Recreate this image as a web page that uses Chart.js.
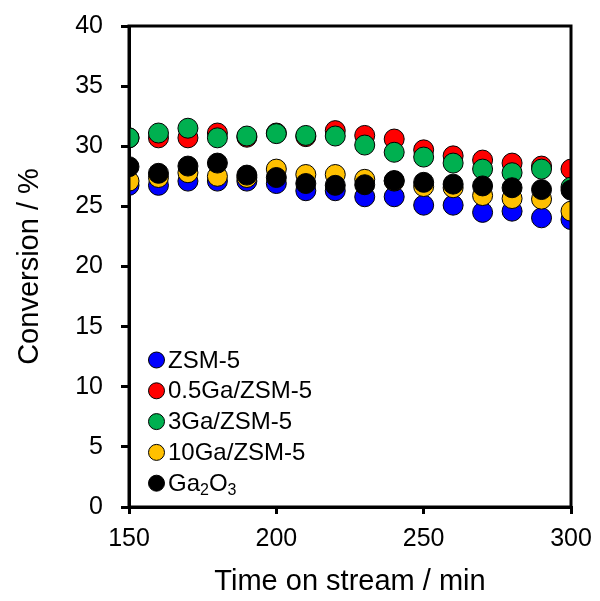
<!DOCTYPE html>
<html>
<head>
<meta charset="utf-8">
<script src="https://cdn.jsdelivr.net/npm/chart.js@4"></script>
<style>
    body { margin: 0; background: #fff; }
    #wrap { width: 600px; height: 601px; }
</style>
</head>
<body>
<div id="wrap"><canvas id="conversionChart"></canvas></div>
<script>
// Time on stream (min)
const times = [150, 160, 170, 180, 190, 200, 210, 220, 230, 240, 250, 260, 270, 280, 290, 300];

// Conversion (%) for each catalyst
const zsm5 = [26.75, 26.75, 27.1, 27.1, 27.1, 26.9, 26.3, 26.3, 25.8, 25.8, 25.1, 25.1, 24.5, 24.6, 24.05, 23.9];
const ga05 = [30.7, 30.7, 30.7, 31.1, 30.75, 31.1, 30.8, 31.3, 30.9, 30.6, 29.7, 29.2, 28.85, 28.6, 28.35, 28.1];
const ga3 = [30.7, 31.1, 31.5, 30.7, 30.85, 31.05, 30.9, 30.85, 30.1, 29.5, 29.1, 28.6, 28.1, 27.8, 28.1, 26.6];
const ga10 = [27.1, 27.4, 27.8, 27.5, 27.4, 28.1, 27.65, 27.65, 27.25, 27.1, 26.65, 26.55, 25.9, 25.65, 25.6, 24.6];
const ga2o3 = [28.3, 27.75, 28.35, 28.6, 27.6, 27.4, 26.9, 26.75, 26.8, 27.15, 27.0, 26.85, 26.7, 26.55, 26.4, 26.35];

const seriesNames = ['ZSM-5', '0.5Ga/ZSM-5', '3Ga/ZSM-5', '10Ga/ZSM-5', 'Ga2O3'];
const seriesColors = ['#0000ff', '#ff0000', '#00b050', '#ffc000', '#000000'];
const seriesValues = [zsm5, ga05, ga3, ga10, ga2o3];

const FONT = "'Liberation Sans', Arial, sans-serif";

function toPoints(values) {
    return times.map(function(t, i) { return { x: t, y: values[i] }; });
}

const datasets = seriesValues.map(function(values, i) {
    return {
        label: seriesNames[i],
        data: toPoints(values),
        backgroundColor: seriesColors[i],
        borderColor: '#000',
        borderWidth: 1,
        pointRadius: 10,
        pointHoverRadius: 10,
        // later series sit on top
        order: seriesNames.length - i
    };
});

// box around the plot area
const frame = {
    id: 'frame',
    afterDraw: function(chart) {
        const a = chart.chartArea;
        const ctx = chart.ctx;
        ctx.save();
        ctx.strokeStyle = '#000';
        ctx.lineWidth = 3;
        ctx.strokeRect(a.left, a.top, a.right - a.left, a.bottom - a.top);
        ctx.restore();
    }
};

// legend inside the plot, lower left, with subscripts for Ga2O3
const innerLegend = {
    id: 'innerLegend',
    afterDraw: function(chart) {
        const ctx = chart.ctx;
        const x0 = 156.5, y0 = 360, step = 30.8, size = 24;
        ctx.save();
        ctx.textBaseline = 'middle';
        ctx.textAlign = 'left';
        seriesNames.forEach(function(name, i) {
            const y = y0 + i * step;
            ctx.beginPath();
            ctx.arc(x0, y, 8, 0, Math.PI * 2);
            ctx.fillStyle = seriesColors[i];
            ctx.fill();
            ctx.lineWidth = 1;
            ctx.strokeStyle = '#000';
            ctx.stroke();
            ctx.fillStyle = '#000';
            let x = 168;
            if (name === 'Ga2O3') {
                const parts = [['Ga', false], ['2', true], ['O', false], ['3', true]];
                parts.forEach(function(p) {
                    ctx.font = (p[1] ? 16 : size) + 'px ' + FONT;
                    ctx.fillText(p[0], x, p[1] ? y + 7 : y + 1);
                    x += ctx.measureText(p[0]).width;
                });
            } else {
                ctx.font = size + 'px ' + FONT;
                ctx.fillText(name, x, y + 1);
            }
        });
        ctx.restore();
    }
};

const ctx = document.getElementById('conversionChart').getContext('2d');
new Chart(ctx, {
    type: 'scatter',
    data: { datasets: datasets },
    options: {
        responsive: true,
        maintainAspectRatio: false,
        animation: false,
        layout: { padding: { top: 26, right: 29, left: 0, bottom: 0 } },
        plugins: {
            legend: { display: false },
            tooltip: { enabled: false }
        },
        scales: {
            x: {
                type: 'linear',
                min: 150,
                max: 300,
                afterFit: function(scale) {
                    scale.height = 94;
                    scale.paddingLeft = 0;
                    scale.paddingRight = 0;
                },
                ticks: {
                    stepSize: 50,
                    color: '#000',
                    padding: 10,
                    font: { family: FONT, size: 25 }
                },
                grid: { drawOnChartArea: false, color: '#000', lineWidth: 3, tickLength: 7 },
                border: { color: '#000', width: 3 },
                title: {
                    display: true,
                    text: 'Time on stream / min',
                    color: '#000',
                    padding: 2,
                    font: { family: FONT, size: 29 }
                }
            },
            y: {
                min: 0,
                max: 40,
                afterFit: function(scale) {
                    scale.width = 129;
                    scale.paddingTop = 0;
                    scale.paddingBottom = 0;
                },
                ticks: {
                    stepSize: 5,
                    color: '#000',
                    padding: 18,
                    font: { family: FONT, size: 25 }
                },
                grid: { drawOnChartArea: false, color: '#000', lineWidth: 3, tickLength: 8 },
                border: { color: '#000', width: 3 },
                title: {
                    display: true,
                    text: 'Conversion / %',
                    color: '#000',
                    padding: 13,
                    font: { family: FONT, size: 29 }
                }
            }
        }
    },
    plugins: [frame, innerLegend]
});
</script>
</body>
</html>
